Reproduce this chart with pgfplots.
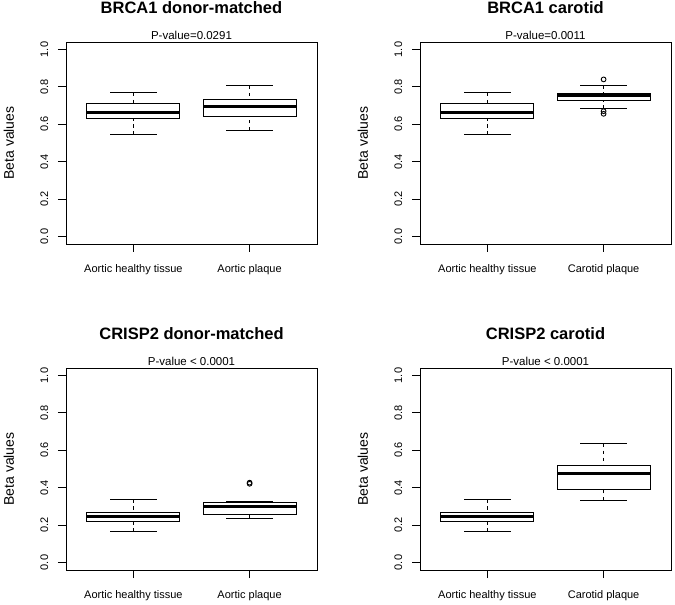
\documentclass[border=0pt]{standalone}
\usepackage{fontspec}
\setmainfont{Liberation Sans}
\usepackage{pgfplots}
\pgfplotsset{compat=1.18}
\usepgfplotslibrary{statistics}
\pgfplotsset{
  rbox/.style={
    scale only axis, width=251pt, height=202pt,
    anchor=south west, clip=false,
    xmin=0.42, xmax=2.58, ymin=-0.04, ymax=1.04,
    axis line style={line width=0.9pt},
    xtick={1,2}, ytick={0,0.2,0.4,0.6,0.8,1.0},
    xtick pos=bottom, ytick pos=left,
    tick align=outside, major tick length=8pt,
    every tick/.style={black, line width=0.9pt},
    /pgf/number format/assume math mode=true,
    ticklabel style={font=\fontsize{11}{13}\selectfont},
    yticklabel style={/pgf/number format/fixed, /pgf/number format/fixed zerofill, /pgf/number format/precision=1, rotate=90, anchor=south, inner sep=0pt, yshift=9.5pt},
    xticklabel style={yshift=-9pt},
    ylabel={Beta values},
    every axis y label/.style={at={(axis description cs:-0.228,0.5)}, rotate=90, anchor=center, font=\fontsize{14}{16}\selectfont},
    every axis title/.style={font=\bfseries\fontsize{16.5}{19}\selectfont, at={(axis description cs:0.5,1)}, anchor=base, yshift=28pt},
    boxplot/draw direction=y,
    boxplot/box extend=0.8,
    boxplot/whisker extend=0.4,
    boxplot/every box/.style={draw=black, line width=0.9pt},
    boxplot/every median/.style={draw=black, line width=3pt},
    boxplot/draw/lower whisker/.code={%
      \draw[black, line width=0.9pt, dash pattern=on 3.5pt off 3.5pt]
        (boxplot cs:\pgfplotsboxplotvalue{lower whisker}) -- (boxplot cs:\pgfplotsboxplotvalue{lower quartile});
      \draw[black, line width=0.9pt]
        (boxplot whisker cs:\pgfplotsboxplotvalue{lower whisker},0) -- (boxplot whisker cs:\pgfplotsboxplotvalue{lower whisker},1);
    },
    boxplot/draw/upper whisker/.code={%
      \draw[black, line width=0.9pt, dash pattern=on 3.5pt off 3.5pt]
        (boxplot cs:\pgfplotsboxplotvalue{upper whisker}) -- (boxplot cs:\pgfplotsboxplotvalue{upper quartile});
      \draw[black, line width=0.9pt]
        (boxplot whisker cs:\pgfplotsboxplotvalue{upper whisker},0) -- (boxplot whisker cs:\pgfplotsboxplotvalue{upper whisker},1);
    },
  },
  rplot/.style={black, mark=o, mark size=2.4pt, mark options={line width=0.9pt, solid}},
}
\newcommand{\pval}[1]{\node[anchor=base, font=\fontsize{11.5}{13}\selectfont, inner sep=0pt] at (axis description cs:0.5,1) [yshift=2.6pt] {#1};}
\begin{document}
\begin{tikzpicture}
\useasboundingbox (0,0) rectangle (675pt,605pt);
% Panel 1
\begin{axis}[rbox, at={(66pt,361pt)}, title={BRCA1 donor-matched},
  xticklabels={Aortic healthy tissue, Aortic plaque}]
\addplot[rplot, boxplot prepared={draw position=1, lower whisker=0.544, lower quartile=0.633, median=0.663, upper quartile=0.711, upper whisker=0.768}] coordinates {};
\addplot[rplot, boxplot prepared={draw position=2, lower whisker=0.567, lower quartile=0.642, median=0.693, upper quartile=0.734, upper whisker=0.806}] coordinates {};
\pval{P-value=0.0291}
\end{axis}
% Panel 2
\begin{axis}[rbox, at={(420pt,361pt)}, title={BRCA1 carotid},
  xticklabels={Aortic healthy tissue, Carotid plaque}]
\addplot[rplot, boxplot prepared={draw position=1, lower whisker=0.544, lower quartile=0.633, median=0.663, upper quartile=0.711, upper whisker=0.768}] coordinates {};
\addplot[rplot, boxplot prepared={draw position=2, lower whisker=0.683, lower quartile=0.725, median=0.755, upper quartile=0.766, upper whisker=0.808}] coordinates {(0,0.840) (0,0.670) (0,0.656)};
\pval{P-value=0.0011}
\end{axis}
% Panel 3
\begin{axis}[rbox, at={(66pt,35pt)}, title={CRISP2 donor-matched},
  xticklabels={Aortic healthy tissue, Aortic plaque}]
\addplot[rplot, boxplot prepared={draw position=1, lower whisker=0.164, lower quartile=0.221, median=0.248, upper quartile=0.269, upper whisker=0.337}] coordinates {};
\addplot[rplot, boxplot prepared={draw position=2, lower whisker=0.237, lower quartile=0.257, median=0.301, upper quartile=0.319, upper whisker=0.325}] coordinates {(0,0.421) (0,0.427)};
\pval{P-value < 0.0001}
\end{axis}
% Panel 4
\begin{axis}[rbox, at={(420pt,35pt)}, title={CRISP2 carotid},
  xticklabels={Aortic healthy tissue, Carotid plaque}]
\addplot[rplot, boxplot prepared={draw position=1, lower whisker=0.164, lower quartile=0.221, median=0.248, upper quartile=0.269, upper whisker=0.337}] coordinates {};
\addplot[rplot, boxplot prepared={draw position=2, lower whisker=0.332, lower quartile=0.388, median=0.475, upper quartile=0.521, upper whisker=0.636}] coordinates {};
\pval{P-value < 0.0001}
\end{axis}
\end{tikzpicture}
\end{document}
